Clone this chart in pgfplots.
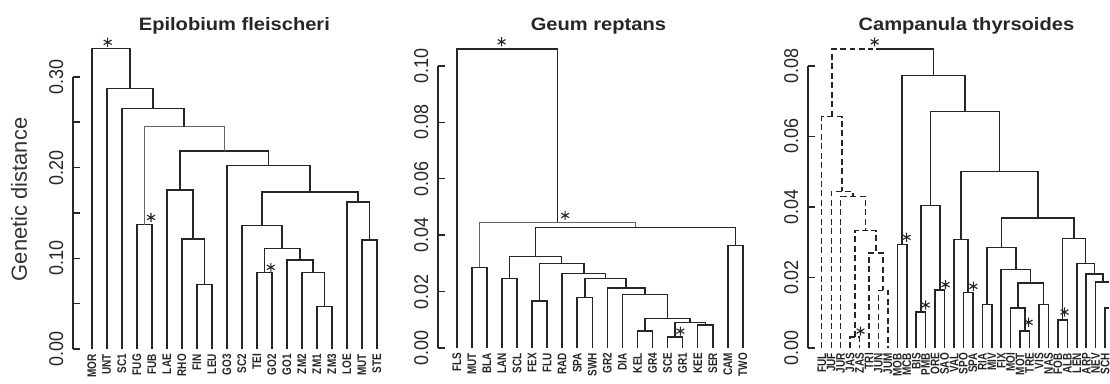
\documentclass[border=0pt]{standalone}
\usepackage{pgfplots}
\pgfplotsset{compat=1.18}
\usepackage{fontspec}
\setmainfont{Liberation Sans}
\newfontfamily\tickfont[FakeStretch=0.9]{Liberation Sans}
\newfontfamily\leaffont[FakeStretch=0.8]{Liberation Sans}
\newfontfamily\titlefont[FakeStretch=1.12]{Liberation Sans}
\definecolor{ink}{HTML}{262626}
\pgfplotsset{
  dend/.style={ink, line width=1.5pt, mark=none},
  thin/.style={black!60, line width=1pt, mark=none},
  dash/.style={ink, line width=1.4pt, mark=none, dash pattern=on 6pt off 3.5pt},
  star/.style={only marks, mark=asterisk, mark size=4.6pt, ink, mark options={line width=1.1pt, solid}},
  panel/.style={
    anchor=south west, clip=false,
    axis y line*=left, axis x line*=bottom,
    x axis line style={draw=none}, xtick style={draw=none},
    tick align=inside, major tick length=7pt,
    y axis line style={line width=1.5pt, ink},
    ytick style={line width=1.5pt, ink},
    ymin=0, scaled y ticks=false,
    yticklabel style={rotate=90, anchor=south, font=\tickfont\fontsize{20}{20}\selectfont, text=ink},
    yticklabel shift=6pt,
    xticklabel style={rotate=90, anchor=east, font=\leaffont\bfseries\fontsize{12.5}{12.5}\selectfont, text=ink},
    xticklabel shift=1.5pt,
  }
}
\begin{document}
\begin{tikzpicture}
\path[use as bounding box] (0pt,0pt) rectangle (1113pt,385pt);
\node[rotate=90, font=\fontsize{22}{22}\selectfont, text=black!80] at (19pt,185pt) {Genetic distance};
\node[font=\titlefont\bfseries\fontsize{18}{18}\selectfont, text=ink] at (235pt,359pt) {Epilobium fleischeri};
\node[font=\titlefont\bfseries\fontsize{18}{18}\selectfont, text=ink] at (600pt,359pt) {Geum reptans};
\node[font=\titlefont\bfseries\fontsize{18}{18}\selectfont, text=ink] at (969pt,359pt) {Campanula thyrsoides};

% ---------------- Panel 1: Epilobium fleischeri
\begin{axis}[panel, at={(73pt,35pt)}, x=15.05pt, y=910pt,
  xmin=-1.2625, xmax=19.6, ymax=0.30,
  ytick={0,0.05,0.1,0.15,0.2,0.25,0.3},
  yticklabels={0.00,,0.10,,0.20,,0.30},
  xtick={0,1,2,3,4,5,6,7,8,9,10,11,12,13,14,15,16,17,18,19},
  xticklabels={MOR,UNT,SC1,FUG,FUB,LAE,RHO,FIN,LEU,GO3,SC2,TEI,GO2,GO1,ZM2,ZM1,ZM3,LOE,MUT,STE}]
\addplot[dend] coordinates {(3,0)(3,0.137)(4,0.137)(4,0)};
\addplot[dend] coordinates {(7,0)(7,0.0714)(8,0.0714)(8,0)};
\addplot[dend] coordinates {(6,0)(6,0.121)(7.5,0.121)(7.5,0.0714)};
\addplot[dend] coordinates {(5,0)(5,0.175)(6.75,0.175)(6.75,0.121)};
\addplot[dend] coordinates {(15,0)(15,0.047)(16,0.047)(16,0)};
\addplot[dend] coordinates {(14,0)(14,0.0846)(15.5,0.0846)(15.5,0.047)};
\addplot[dend] coordinates {(13,0)(13,0.098)(14.75,0.098)(14.75,0.0846)};
\addplot[dend] coordinates {(11,0)(11,0.0846)(12,0.0846)(12,0)};
\addplot[dend] coordinates {(11.5,0.0846)(11.5,0.111)(13.875,0.111)(13.875,0.098)};
\addplot[dend] coordinates {(10,0)(10,0.136)(12.6875,0.136)(12.6875,0.111)};
\addplot[dend] coordinates {(18,0)(18,0.120)(19,0.120)(19,0)};
\addplot[dend] coordinates {(17,0)(17,0.162)(18.5,0.162)(18.5,0.120)};
\addplot[dend] coordinates {(11.344,0.136)(11.344,0.173)(17.75,0.173)(17.75,0.162)};
\addplot[dend] coordinates {(9,0)(9,0.202)(14.547,0.202)(14.547,0.173)};
\addplot[dend] coordinates {(5.875,0.175)(5.875,0.218)(11.773,0.218)(11.773,0.202)};
\addplot[thin] coordinates {(3.5,0.137)(3.5,0.245)(8.824,0.245)(8.824,0.218)};
\addplot[dend] coordinates {(2,0)(2,0.265)(6.162,0.265)(6.162,0.245)};
\addplot[dend] coordinates {(1,0)(1,0.287)(4.081,0.287)(4.081,0.265)};
\addplot[dend] coordinates {(0,0)(0,0.331)(2.540,0.331)(2.540,0.287)};
\addplot[star] coordinates {(1.06,0.338)(3.95,0.145)(11.93,0.090)};
\end{axis}

% ---------------- Panel 2: Geum reptans
\begin{axis}[panel, at={(439pt,36pt)}, x=15.1pt, y=2830pt,
  xmin=-1.258, xmax=19.6, ymax=0.10,
  ytick={0,0.02,0.04,0.06,0.08,0.1},
  yticklabels={0.00,0.02,0.04,0.06,0.08,0.10},
  xtick={0,1,2,3,4,5,6,7,8,9,10,11,12,13,14,15,16,17,18,19},
  xticklabels={FLS,MUT,BLA,LAN,SCL,FEX,FLU,RAD,SPA,SWH,GR2,DIA,KEL,GR4,SCE,GR1,KEE,SER,CAM,TWO}]
\addplot[dend] coordinates {(1,0)(1,0.0286)(2,0.0286)(2,0)};
\addplot[dend] coordinates {(3,0)(3,0.0247)(4,0.0247)(4,0)};
\addplot[dend] coordinates {(5,0)(5,0.0166)(6,0.0166)(6,0)};
\addplot[dend] coordinates {(8,0)(8,0.018)(9,0.018)(9,0)};
\addplot[dend] coordinates {(12,0)(12,0.006)(13,0.006)(13,0)};
\addplot[dend] coordinates {(14,0)(14,0.0039)(15,0.0039)(15,0)};
\addplot[dend] coordinates {(16,0)(16,0.0081)(17,0.0081)(17,0)};
\addplot[dend] coordinates {(14.5,0.0039)(14.5,0.009)(16.5,0.009)(16.5,0.0081)};
\addplot[dend] coordinates {(12.5,0.006)(12.5,0.0105)(15.5,0.0105)(15.5,0.009)};
\addplot[dend] coordinates {(11,0)(11,0.019)(14,0.019)(14,0.0105)};
\addplot[dend] coordinates {(10,0)(10,0.0212)(12.5,0.0212)(12.5,0.019)};
\addplot[dend] coordinates {(8.5,0.018)(8.5,0.0247)(11.25,0.0247)(11.25,0.0212)};
\addplot[dend] coordinates {(7,0)(7,0.0265)(9.875,0.0265)(9.875,0.0247)};
\addplot[dend] coordinates {(5.5,0.0166)(5.5,0.030)(8.4375,0.030)(8.4375,0.0265)};
\addplot[dend] coordinates {(3.5,0.0247)(3.5,0.0325)(6.969,0.0325)(6.969,0.030)};
\addplot[dend] coordinates {(18,0)(18,0.0364)(19,0.0364)(19,0)};
\addplot[dend] coordinates {(5.234,0.0325)(5.234,0.0428)(18.5,0.0428)(18.5,0.0364)};
\addplot[thin] coordinates {(1.5,0.0286)(1.5,0.0445)(11.867,0.0445)(11.867,0.0428)};
\addplot[dend] coordinates {(0,0)(0,0.106)(6.684,0.106)(6.684,0.0445)};
\addplot[star] coordinates {(2.98,0.1085)(7.2,0.047)(14.85,0.006)};
\end{axis}

% ---------------- Panel 3: Campanula thyrsoides
\begin{axis}[panel, at={(810pt,36pt)}, x=9.47pt, y=3537pt,
  xmin=-1.478, xmax=30.2, ymax=0.08,
  ytick={0,0.02,0.04,0.06,0.08},
  yticklabels={0.00,0.02,0.04,0.06,0.08},
  xtick={0,1,2,3,4,5,6,7,8,9,10,11,12,13,14,15,16,17,18,19,20,21,22,23,24,25,26,27,28,29,30},
  xticklabels={FUL,JUF,JUR,JAS,ZAS,TRI,JUN,JUM,MOB,MCB,BIS,PMB,ORE,SAO,VAL,SPO,SPA,RIA,MIV,FIX,MOI,MOT,TRE,VIS,NAS,FOB,ALB,LEN,ARP,NEV,SCH}]
% dashed group
\addplot[dash] coordinates {(6,0)(6,0.0164)(7,0.0164)(7,0)};
\addplot[dash] coordinates {(5,0)(5,0.027)(6.5,0.027)(6.5,0.0164)};
\addplot[dash] coordinates {(3,0)(3,0.0031)(4,0.0031)(4,0)};
\addplot[dash] coordinates {(3.5,0.0031)(3.5,0.0333)(5.75,0.0333)(5.75,0.027)};
\addplot[dash] coordinates {(2,0)(2,0.043)(4.625,0.043)(4.625,0.0333)};
\addplot[dash] coordinates {(1,0)(1,0.0444)(3.3125,0.0444)(3.3125,0.043)};
\addplot[dash] coordinates {(0,0)(0,0.0656)(2.156,0.0656)(2.156,0.0444)};
\addplot[dash] coordinates {(1.078,0.0656)(1.078,0.0848)(5.45,0.0848)};
% solid group
\addplot[dend] coordinates {(8,0)(8,0.0294)(9,0.0294)(9,0)};
\addplot[dend] coordinates {(10,0)(10,0.0102)(11,0.0102)(11,0)};
\addplot[dend] coordinates {(12,0)(12,0.0164)(13,0.0164)(13,0)};
\addplot[dend] coordinates {(10.5,0.0102)(10.5,0.0404)(12.5,0.0404)(12.5,0.0164)};
\addplot[dend] coordinates {(15,0)(15,0.0158)(16,0.0158)(16,0)};
\addplot[dend] coordinates {(14,0)(14,0.0308)(15.5,0.0308)(15.5,0.0158)};
\addplot[dend] coordinates {(17,0)(17,0.0124)(18,0.0124)(18,0)};
\addplot[dend] coordinates {(21,0)(21,0.0048)(22,0.0048)(22,0)};
\addplot[dend] coordinates {(20,0)(20,0.0113)(21.5,0.0113)(21.5,0.0048)};
\addplot[dend] coordinates {(23,0)(23,0.0124)(24,0.0124)(24,0)};
\addplot[dend] coordinates {(20.75,0.0113)(20.75,0.0184)(23.5,0.0184)(23.5,0.0124)};
\addplot[dend] coordinates {(19,0)(19,0.0223)(22.125,0.0223)(22.125,0.0184)};
\addplot[dend] coordinates {(17.5,0.0124)(17.5,0.0285)(20.5625,0.0285)(20.5625,0.0223)};
\addplot[dend] coordinates {(25,0)(25,0.0079)(26,0.0079)(26,0)};
\addplot[dend] coordinates {(30,0)(30,0.0113)(30.45,0.0113)};
\addplot[dend] coordinates {(29,0)(29,0.0187)(30.45,0.0187)};
\addplot[dend] coordinates {(28,0)(28,0.021)(29.75,0.021)(29.75,0.0187)};
\addplot[dend] coordinates {(27,0)(27,0.024)(28.875,0.024)(28.875,0.021)};
\addplot[dend] coordinates {(25.5,0.0079)(25.5,0.031)(27.9375,0.031)(27.9375,0.024)};
\addplot[dend] coordinates {(19.03125,0.0285)(19.03125,0.0368)(26.71875,0.0368)(26.71875,0.031)};
\addplot[dend] coordinates {(14.75,0.0308)(14.75,0.050)(22.875,0.050)(22.875,0.0368)};
\addplot[dend] coordinates {(11.5,0.0404)(11.5,0.067)(18.8125,0.067)(18.8125,0.050)};
\addplot[dend] coordinates {(8.5,0.0294)(8.5,0.0772)(15.156,0.0772)(15.156,0.067)};
\addplot[dend] coordinates {(5.75,0.0848)(11.828,0.0848)(11.828,0.0772)};
\addplot[star] coordinates {(5.6,0.0868)(8.98,0.0314)(11.0,0.0122)(13.1,0.018)(4.1,0.0048)(16.05,0.0175)(21.9,0.0073)(25.7,0.0102)};
\end{axis}
\end{tikzpicture}
\end{document}
